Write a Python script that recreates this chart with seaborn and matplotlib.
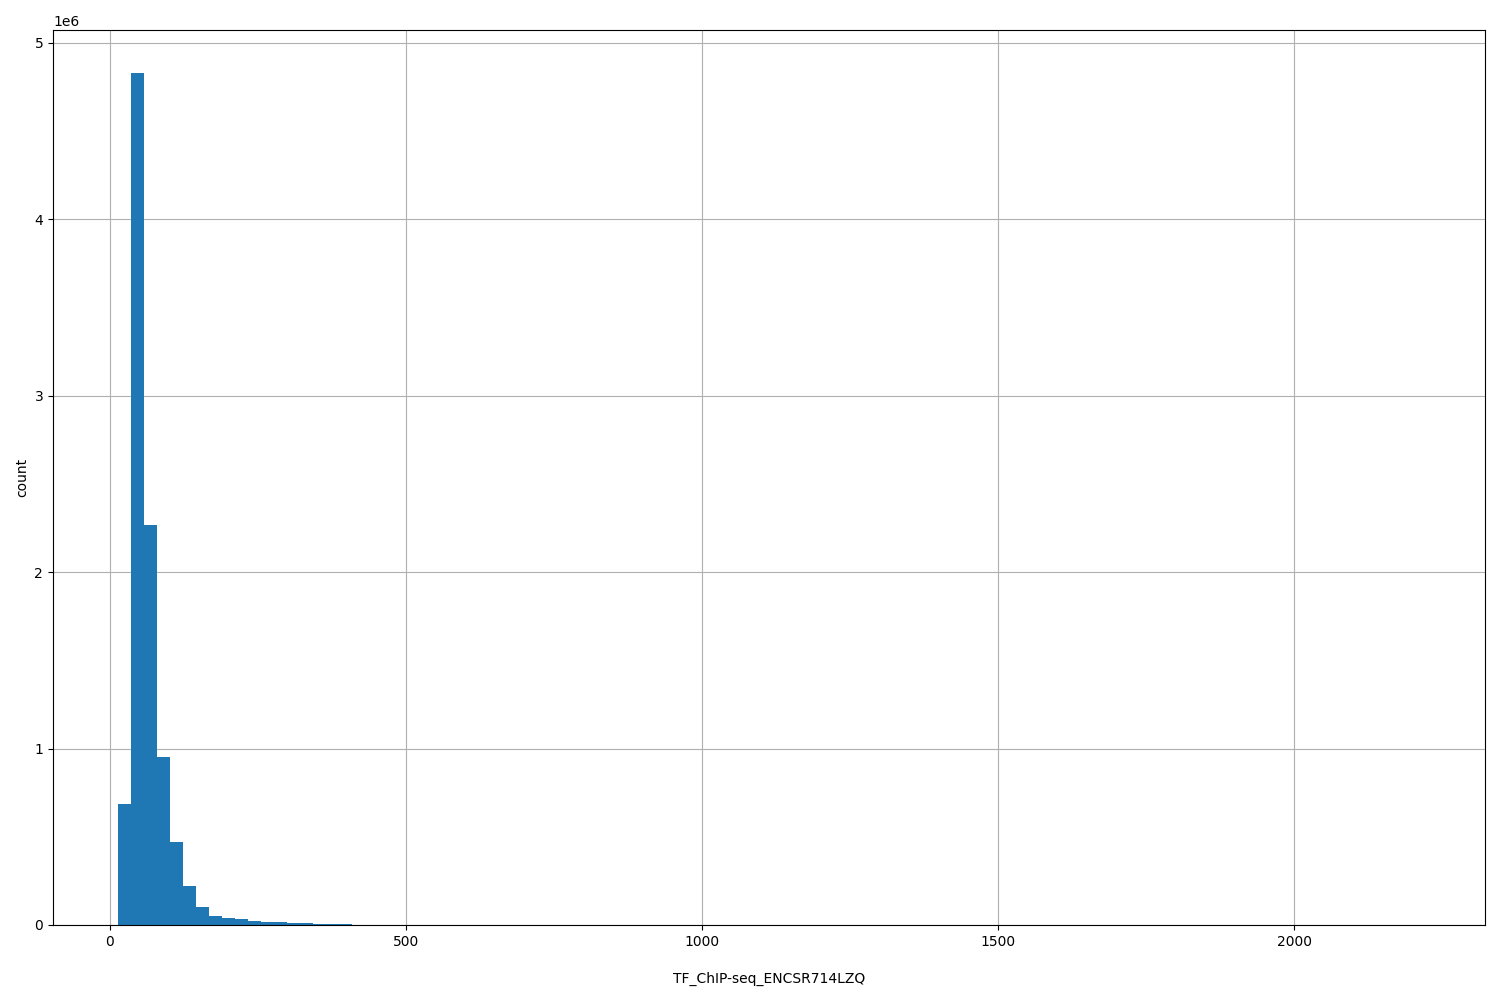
import numpy as np
import pandas as pd
import matplotlib
matplotlib.use("Agg")
import matplotlib.pyplot as plt
import seaborn as sns

# histogram: 100 bins between min and max value
lo = 14
hi = 2212
counts = [688000, 4832000, 2265000, 955000, 468000, 222000, 104000, 51000,
          40000, 34000, 23000, 17000, 16000, 11000, 10000, 6000, 5000, 4000,
          2000, 1600, 1300, 1100, 950, 820, 700, 600, 520, 450,
          390, 340, 300, 260, 230, 200, 170, 150, 130, 110,
          95, 85, 75, 66, 58, 51, 45, 40, 36, 32,
          28, 25, 22, 20, 18, 16, 14, 13, 12, 11,
          10, 9, 8, 8, 7, 6, 6, 5, 5, 4,
          4, 4, 3, 3, 3, 3, 2, 2, 2, 2,
          2, 2, 1, 1, 1, 1, 1, 1, 1, 1,
          1, 1, 1, 0, 1, 0, 0, 1, 0, 0,
          0, 1]
label = "TF_ChIP-seq_ENCSR714LZQ"

nbins = len(counts)
edges = np.linspace(lo, hi, nbins + 1)
df = pd.DataFrame({"center": (edges[:-1] + edges[1:]) / 2, "n": counts})

fig, ax = plt.subplots(figsize=(15, 10), dpi=100)
sns.histplot(data=df, x="center", weights="n", bins=nbins, binrange=(lo, hi),
             color="#1f77b4", alpha=1, edgecolor="none", linewidth=0, ax=ax)
ax.grid(True, color="#b0b0b0", linewidth=0.8)
ax.set_axisbelow(True)
ax.set_xlabel(label, labelpad=17)
ax.set_ylabel("count")
ax.set_xticks([0, 500, 1000, 1500, 2000])
fig.subplots_adjust(left=0.0353, right=0.99, top=0.97, bottom=0.075)
plt.savefig("out.png")
